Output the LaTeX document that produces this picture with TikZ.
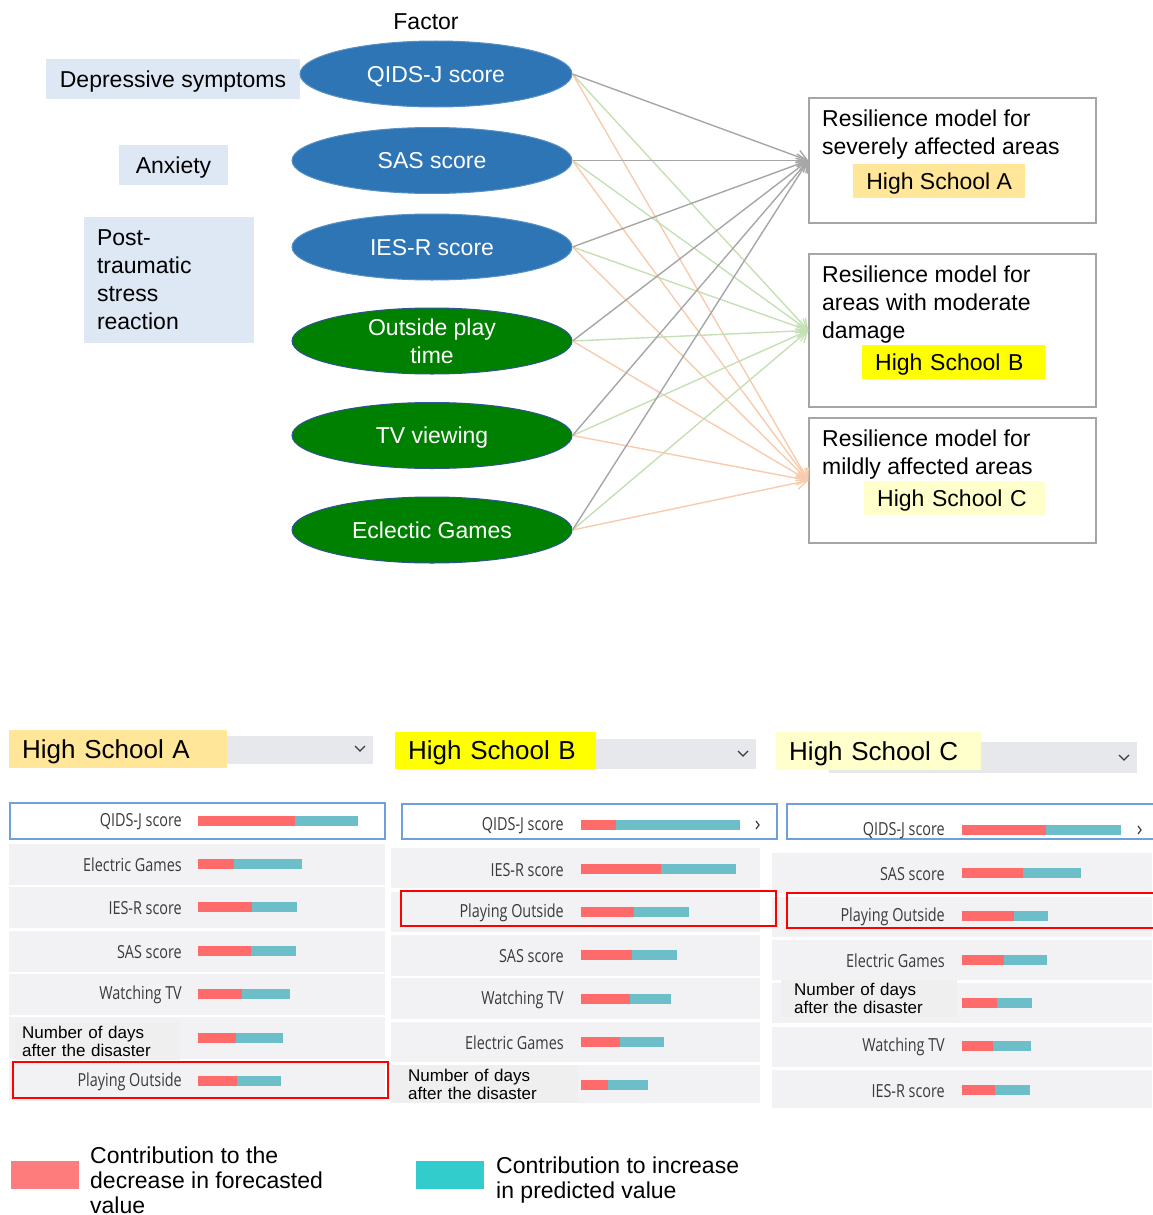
\documentclass[tikz,border=0pt]{standalone}
\usepackage{fontspec}
\setmainfont{Liberation Sans}
\newfontfamily\barfont[FakeStretch=0.8]{Open Sans}
\usepackage{tikz}
\usetikzlibrary{arrows.meta,positioning,shapes.geometric}
\definecolor{ccat}{HTML}{DEE8F4}
\definecolor{cblue}{HTML}{2E75B6}
\definecolor{cgreen}{HTML}{008000}
\definecolor{cgedge}{HTML}{2F5597}
\definecolor{cbox}{HTML}{A6A6A6}
\definecolor{carA}{HTML}{A6A6A6}
\definecolor{carB}{HTML}{C5E0B4}
\definecolor{carC}{HTML}{F8CBAD}
\definecolor{chA}{HTML}{FFE699}
\definecolor{chB}{HTML}{FFFF00}
\definecolor{chC}{HTML}{FFFFCC}
\definecolor{cdrop}{HTML}{E7E8EC}
\definecolor{crow}{HTML}{F2F2F4}
\definecolor{cdays}{HTML}{EFEFEF}
\definecolor{csel}{HTML}{6FA0DA}
\definecolor{cneg}{HTML}{FF6B6B}
\definecolor{cpos}{HTML}{6CBEC8}
\definecolor{clneg}{HTML}{FF7C7C}
\definecolor{clpos}{HTML}{33CCCC}
\definecolor{clbl}{HTML}{3A3A3A}
\tikzset{
  big/.style={font=\fontsize{23}{28}\selectfont},
  cat/.style={big, fill=ccat, inner sep=0pt, align=center},
  factor/.style={ellipse, minimum width=280pt, minimum height=66pt, inner sep=0pt, big, text=white, align=center, text depth=0pt, line width=1pt},
  fblue/.style={factor, fill=cblue, draw=cblue!80!white},
  fgreen/.style={factor, fill=cgreen, draw=cgedge},
  model/.style={draw=cbox, line width=1.5pt, minimum width=287pt, inner sep=0pt},
  mtext/.style={big, anchor=west, align=left, inner sep=0pt},
  hl/.style={big, minimum height=34pt, inner xsep=13pt, inner ysep=0pt, align=left, text depth=0pt},
  lnA/.style={-{Straight Barb[length=10pt,width=13pt]}, line width=1.4pt, draw=carA},
  lnB/.style={lnA, draw=carB},
  lnC/.style={lnA, draw=carC},
  head/.style={font=\fontsize{26}{30}\selectfont, anchor=west, align=left, inner xsep=13pt, inner ysep=0pt, text depth=0pt},
  chev/.style={line width=1.2pt, draw=clbl},
  rowsel/.style={draw=csel, line width=1.5pt, fill=white},
  pick/.style={draw=red, line width=1.4pt},
  barlbl/.style={font=\barfont\fontsize{18}{20}\selectfont, text=clbl, anchor=east, inner sep=0pt},
  days/.style={font=\fontsize{17}{18}\selectfont, fill=cdays, anchor=west, align=left, inner ysep=0pt},
  legsq/.style={minimum width=68pt, minimum height=28pt, inner sep=0pt},
  leg/.style={font=\fontsize{23}{25}\selectfont, anchor=west, align=left, inner sep=0pt},
}
\begin{document}
\begin{tikzpicture}[x=1pt,y=-1pt]
\useasboundingbox (0,0) rectangle (1152,1215);
\node[big, text depth=0pt] (fac) at (426,22) {Factor};
\node[cat, minimum width=254pt, minimum height=40pt, text depth=0pt] (dep) at (173,79) {Depressive symptoms};
\node[cat, minimum width=109pt, minimum height=40pt, text depth=0pt] (anx) at (173.5,165) {Anxiety};
\node[cat, minimum width=170pt, minimum height=126pt, text width=144pt, align=left] (ptsr) at (169,280) {Post-\\traumatic\\stress\\reaction};
\node[fblue, minimum width=272pt] (qids) at (436,74) {QIDS-J score};
\node[fblue] (sas) at (432,160.5) {SAS score};
\node[fblue] (iesr) at (432,247) {IES-R score};
\node[fgreen, inner ysep=-6pt] (play) at (432,341) {Outside play\\time};
\node[fgreen] (tv) at (432,435.5) {TV viewing};
\node[fgreen] (games) at (432,530) {Eclectic Games};
\node[model, minimum height=125pt] (ma) at (952.5,160.5) {};
\node[model, minimum height=153pt] (mb) at (952.5,330.5) {};
\node[model, minimum height=125pt] (mc) at (952.5,480.5) {};
\node[mtext] (ta) at (822,135) {Resilience model for\\severely affected areas};
\node[mtext] (tb) at (822,305) {Resilience model for\\areas with moderate\\damage};
\node[mtext] (tc) at (822,455) {Resilience model for\\mildly affected areas};
\node[hl, fill=chA, anchor=west, inner xsep=0pt, minimum width=172pt] (ha) at (853,181) {High School A};
\node[hl, fill=chB, anchor=west, text width=157pt] (hb) at (862,362) {High School B};
\node[hl, fill=chC, anchor=west, text width=155pt] (hc) at (864,498) {High School C};
\foreach \f in {qids,sas,iesr,play,tv,games} {
  \draw[lnB] (\f.east) -- (mb.west);
  \draw[lnC] (\f.east) -- (mc.west);
  \draw[lnA] (\f.east) -- (ma.west);
}
\fill[cdrop] (227,736) rectangle (373,764);
\fill[cdrop] (596,739) rectangle (756,769);
\fill[cdrop] (829,742) rectangle (1137,773);
\node[head, fill=chA, minimum width=218pt, minimum height=38pt, text width=192pt] (sa) at (9,749) {High School A};
\node[head, fill=chB, minimum width=201pt, minimum height=37pt, text width=175pt] (sb) at (395,750.5) {High School B};
\node[head, fill=chC, minimum width=205pt, minimum height=38pt, text width=179pt] (sc) at (776,751) {High School C};
\draw[chev] (355,746) -- (360,751) -- (365,746);
\draw[chev] (738,751) -- (743,756) -- (748,751);
\draw[chev] (1119,755) -- (1124,760) -- (1129,755);
\draw[rowsel] (10,803) rectangle (385,839);
\foreach \a/\b in {844/885,887/928,931/972,974/1015,1017/1059,1061/1101}
  \fill[crow] (9,\a) rectangle (385,\b);
\draw[rowsel] (402,804) rectangle (777,839);
\foreach \a/\b in {848/888,892/932,935/976,978/1019,1022/1062,1065/1103}
  \fill[crow] (391,\a) rectangle (760,\b);
\draw[rowsel] (787,804) rectangle (1160,839);
\foreach \a/\b in {853/893,897/937,940/980,983/1023,1027/1067,1070/1108}
  \fill[crow] (772,\a) rectangle (1152,\b);
\draw[chev] (756,821) -- (759,825) -- (756,829);
\draw[chev] (1138,826) -- (1141,830) -- (1138,834);
\foreach \lab/\r/\t/\y in {QIDS-J score/295/358/821, Electric Games/234/302/864, IES-R score/252/297/907, SAS score/251/296/951, Watching TV/242/290/994, /236/283/1038, Playing Outside/237/281/1081} {
  \fill[cneg] (198,\y-5) rectangle (\r,\y+5);
  \fill[cpos] (\r,\y-5) rectangle (\t,\y+5);
  \node[barlbl] (la\y) at (182,\y+1) {\lab};
}
\foreach \lab/\r/\t/\y in {QIDS-J score/616/740/825, IES-R score/661/736/869, Playing Outside/634/689/912, SAS score/632/677/955, Watching TV/630/671/999, Electric Games/620/664/1042, /608/648/1085} {
  \fill[cneg] (581,\y-5) rectangle (\r,\y+5);
  \fill[cpos] (\r,\y-5) rectangle (\t,\y+5);
  \node[barlbl] (lb\y) at (564,\y+1) {\lab};
}
\foreach \lab/\r/\t/\y in {QIDS-J score/1046/1121/830, SAS score/1023/1081/873, Playing Outside/1014/1048/916, Electric Games/1004/1047/960, /997/1032/1003, Watching TV/993/1031/1046, IES-R score/995/1030/1090} {
  \fill[cneg] (962,\y-5) rectangle (\r,\y+5);
  \fill[cpos] (\r,\y-5) rectangle (\t,\y+5);
  \node[barlbl] (lc\y) at (945,\y+1) {\lab};
}
\node[days, minimum width=165pt, minimum height=38pt, text width=151pt, inner xsep=7pt] (da) at (15,1041) {Number of days\\after the disaster};
\node[days, minimum width=187pt, minimum height=38pt, text width=153pt, inner xsep=17pt] (db) at (391,1084) {Number of days\\after the disaster};
\node[days, minimum width=176pt, minimum height=37pt, text width=150pt, inner xsep=13pt] (dc) at (781,998.5) {Number of days\\after the disaster};
\draw[pick] (13,1062) rectangle (388,1098);
\draw[pick] (401,891) rectangle (776,926);
\draw[pick] (787,893) rectangle (1160,928);
\node[legsq, fill=clneg] (kneg) at (45,1175) {};
\node[leg] (tneg) at (90,1180) {Contribution to the\\decrease in forecasted\\value};
\node[legsq, fill=clpos] (kpos) at (450,1175) {};
\node[leg] (tpos) at (496,1180.5) {Contribution to increase\\in predicted value};
\end{tikzpicture}
\end{document}
